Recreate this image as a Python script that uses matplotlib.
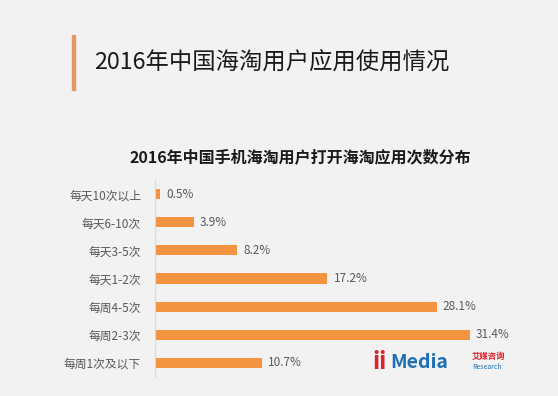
import matplotlib
matplotlib.use("Agg")
import matplotlib.pyplot as plt
from matplotlib.patches import Rectangle

plt.rcParams['font.family'] = ['Noto Sans CJK SC', 'DejaVu Sans']

categories = ["每天10次以上", "每天6-10次", "每天3-5次", "每天1-2次", "每周4-5次", "每周2-3次", "每周1次及以下"]
values = [0.5, 3.9, 8.2, 17.2, 28.1, 31.4, 10.7]
title = "2016年中国海淘用户应用使用情况"
subtitle = "2016年中国手机海淘用户打开海淘应用次数分布"

W, H = 558, 396
bg = "#f2f2f2"
fig = plt.figure(figsize=(W/100, H/100), dpi=100, facecolor=bg)

# title accent bar
fig.patches.append(Rectangle((72/W, 1-90/H), 3/W, 55/H, transform=fig.transFigure,
                             color="#e8956a", zorder=5))
fig.text(94/W, 1-62/H, title, fontsize=16.8, color="#1a1a1a", va="center", ha="left")
fig.text(300/W, 1-157/H, subtitle, fontsize=11.5, fontweight="bold", color="#1a1a1a",
         va="center", ha="center")

ax = fig.add_axes([155/W, 1-377/H, 351/W, 197/H])
ax.set_facecolor(bg)
y = list(range(len(categories)))
ax.barh(y, values, height=0.36, color="#f29440")
ax.set_xlim(0, 35)
ax.set_ylim(len(categories)-0.5, -0.5)
for s in ["top", "right", "bottom"]:
    ax.spines[s].set_visible(False)
ax.spines["left"].set_color("#d9d9d9")
ax.set_xticks([])
ax.set_yticks(y)
ax.set_yticklabels(categories, fontsize=8.5, color="#595959")
ax.tick_params(axis="y", length=0, pad=10)
for yi, v in zip(y, values):
    ax.text(v + 0.6, yi, f"{v}%", va="center", ha="left", fontsize=8.5, color="#595959")

# logo
fig.text(372/W, 1-362/H, "ii", fontsize=17, fontweight="bold", color="#d8232a", va="center", ha="left")
fig.text(390/W, 1-362/H, "Media", fontsize=14, fontweight="bold", color="#1f6fb5", va="center", ha="left")
fig.text(472/W, 1-357/H, "艾媒咨询", fontsize=6, fontweight="bold", color="#d8232a", va="center", ha="left")
fig.text(472/W, 1-367/H, "Research", fontsize=5, color="#1f6fb5", va="center", ha="left", style="italic")

fig.savefig("out.png", dpi=100, facecolor=bg)
